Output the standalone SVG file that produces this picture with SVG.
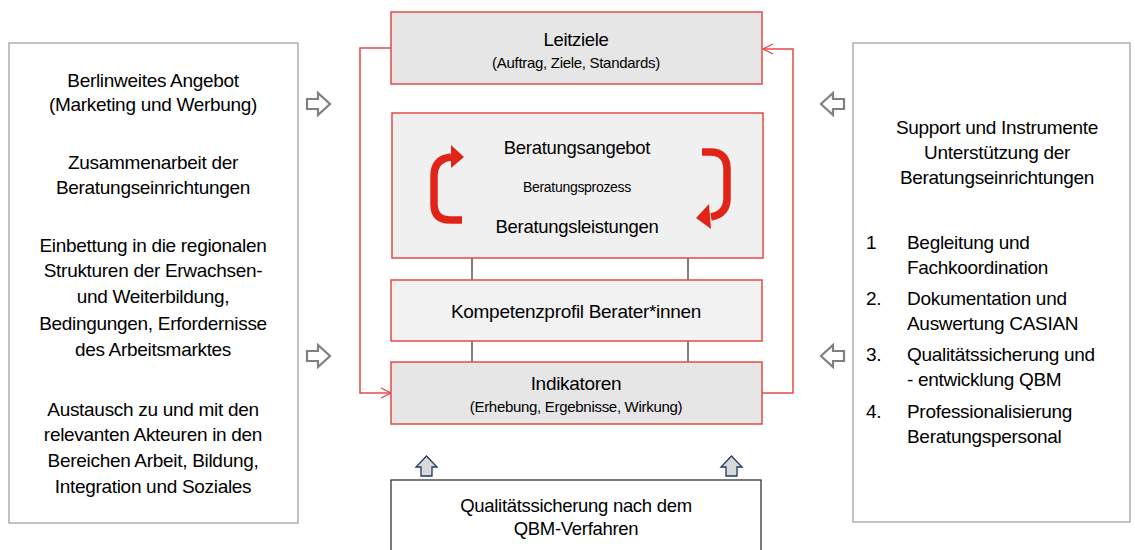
<svg xmlns="http://www.w3.org/2000/svg" width="1135" height="550" viewBox="0 0 1135 550">
<defs>
<style>
text{font-family:"Liberation Sans",Arial,sans-serif;fill:#000;text-anchor:middle}
.t19{font-size:19px;letter-spacing:-0.3px}
.t18{font-size:18.5px;letter-spacing:-0.3px}
.t15{font-size:15px;letter-spacing:-0.3px}
.t14{font-size:14px;letter-spacing:-0.3px}
.side{fill:#fff;stroke:#999;stroke-width:1.2}
.rbox{stroke:#e34a4a;stroke-width:1.5}
.hol{fill:#fff;stroke:#808080;stroke-width:2.2;stroke-linejoin:miter}
.up{fill:#d9d9d9;stroke:#1f3864;stroke-width:1.3}
.lt{text-anchor:start}
.cyc{fill:none;stroke:#e02418;stroke-width:7.5}
</style>
<marker id="oa" markerWidth="12" markerHeight="12" refX="11" refY="6" orient="auto" markerUnits="userSpaceOnUse">
<path d="M1,1 L11,6 L1,11" fill="none" stroke="#e34a4a" stroke-width="1.3"/>
</marker>
</defs>
<rect width="1135" height="550" fill="#fff"/>

<g id="connectors">
<path d="M391,48 H360 V393 H391" fill="none" stroke="#e34a4a" stroke-width="1.5" marker-end="url(#oa)"/>
<path d="M762,393 H793 V49 H763" fill="none" stroke="#e34a4a" stroke-width="1.5" marker-end="url(#oa)"/>
<line x1="472" y1="258" x2="472" y2="280" stroke="#808080" stroke-width="2"/>
<line x1="688" y1="258" x2="688" y2="280" stroke="#808080" stroke-width="2"/>
<line x1="472" y1="341" x2="472" y2="362" stroke="#808080" stroke-width="2"/>
<line x1="688" y1="341" x2="688" y2="362" stroke="#808080" stroke-width="2"/>
<path class="hol" d="M307,99 H318 V93 L330,104 L318,115 V109 H307 Z"/>
<path class="hol" d="M307,351 H318 V345 L330,356 L318,367 V361 H307 Z"/>
<path class="hol" d="M844,99 H833 V93 L821,104 L833,115 V109 H844 Z"/>
<path class="hol" d="M844,351 H833 V345 L821,356 L833,367 V361 H844 Z"/>
<path class="up" d="M421,476 V467 H416 L426.5,456 L437,467 H432 V476 Z"/>
<path class="up" d="M726,476 V467 H721 L731.5,456 L742,467 H737 V476 Z"/>
</g>

<g id="left-box">
<rect class="side" x="9" y="43" width="289" height="480"/>
<text class="t19" x="153" y="87">Berlinweites Angebot</text>
<text class="t19" x="153" y="111">(Marketing und Werbung)</text>
<text class="t19" x="153" y="169">Zusammenarbeit der</text>
<text class="t19" x="153" y="194">Beratungseinrichtungen</text>
<text class="t19" x="153" y="252">Einbettung in die regionalen</text>
<text class="t19" x="153" y="277">Strukturen der Erwachsen-</text>
<text class="t19" x="153" y="303">und Weiterbildung,</text>
<text class="t19" x="153" y="330">Bedingungen, Erfordernisse</text>
<text class="t19" x="153" y="356">des Arbeitsmarktes</text>
<text class="t19" x="153" y="416">Austausch zu und mit den</text>
<text class="t19" x="153" y="441">relevanten Akteuren in den</text>
<text class="t19" x="153" y="467">Bereichen Arbeit, Bildung,</text>
<text class="t19" x="153" y="493">Integration und Soziales</text>
</g>

<g id="right-box">
<rect class="side" x="853" y="43" width="277" height="479"/>
<text class="t19" x="997" y="134">Support und Instrumente</text>
<text class="t19" x="997" y="159">Unterstützung der</text>
<text class="t19" x="997" y="184">Beratungseinrichtungen</text>
<text class="t19 lt" x="866" y="249">1</text>
<text class="t19 lt" x="907" y="249">Begleitung und</text>
<text class="t19 lt" x="907" y="274">Fachkoordination</text>
<text class="t19 lt" x="866" y="305">2.</text>
<text class="t19 lt" x="907" y="305">Dokumentation und</text>
<text class="t19 lt" x="907" y="330">Auswertung CASIAN</text>
<text class="t19 lt" x="866" y="361">3.</text>
<text class="t19 lt" x="907" y="361">Qualitätssicherung und</text>
<text class="t19 lt" x="907" y="386">- entwicklung QBM</text>
<text class="t19 lt" x="866" y="418">4.</text>
<text class="t19 lt" x="907" y="418">Professionalisierung</text>
<text class="t19 lt" x="907" y="443">Beratungspersonal</text>
</g>

<g id="leitziele">
<rect class="rbox" x="391" y="12" width="371" height="72" fill="#e6e6e6"/>
<text class="t18" x="576" y="46">Leitziele</text>
<text class="t15" x="576" y="68">(Auftrag, Ziele, Standards)</text>
</g>

<g id="beratungsangebot">
<rect class="rbox" x="392" y="113" width="371" height="145" fill="#f0f0f0"/>
<text class="t18" x="577" y="154">Beratungsangebot</text>
<text class="t14" x="577" y="192">Beratungsprozess</text>
<text class="t18" x="577" y="233">Beratungsleistungen</text>
<path class="cyc" d="M462,220 H450 Q434,220 434,204 V176 Q434,159 451,157"/>
<path d="M451,145 L464,157 L451,168 Z" fill="#e02418"/>
<path class="cyc" d="M702,152 H710 Q727,152 727,169 V198 Q727,214 711,217"/>
<path d="M709,204 L696,218 L711,229 Z" fill="#e02418"/>
</g>

<g id="kompetenzprofil">
<rect class="rbox" x="391" y="280" width="371" height="61" fill="#f2f2f2"/>
<text class="t19" x="576" y="318">Kompetenzprofil Berater*innen</text>
</g>

<g id="indikatoren">
<rect class="rbox" x="391" y="362" width="371" height="62" fill="#e6e6e6"/>
<text class="t19" x="576" y="390">Indikatoren</text>
<text class="t15" x="576" y="412">(Erhebung, Ergebnisse, Wirkung)</text>
</g>

<g id="qbm">
<rect x="391" y="480" width="370" height="80" fill="#fff" stroke="#333" stroke-width="1.3"/>
<text class="t18" x="576" y="512">Qualitätssicherung nach dem</text>
<text class="t18" x="576" y="535">QBM-Verfahren</text>
</g>
</svg>
